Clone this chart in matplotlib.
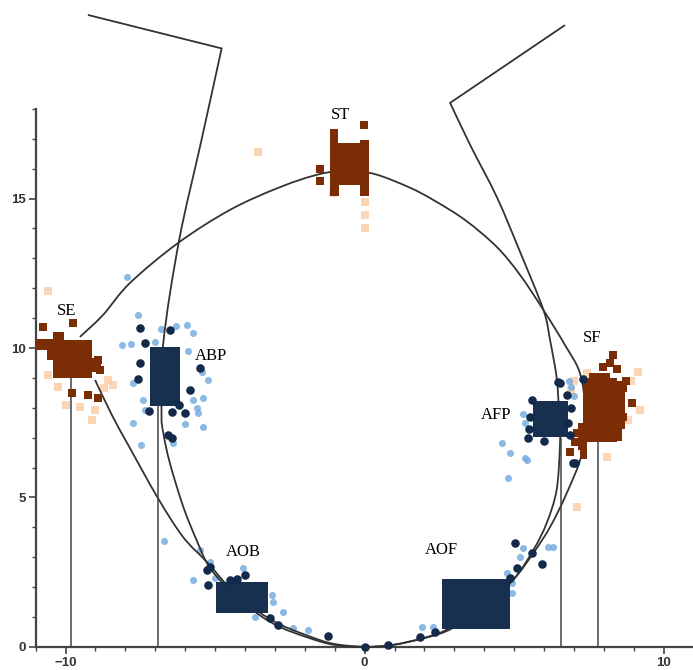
import numpy as np
import matplotlib
matplotlib.use("Agg")
import matplotlib.pyplot as plt
from matplotlib.path import Path
from matplotlib.patches import PathPatch

# ---- data ----
# inner curve (with the two upper arms)
inner_x = [-9.25, -4.78, -5.47, -6.20, -6.73, -6.79, -6.73, -6.51, -6.06, -5.62, -5.23, -4.67,
           -3.61, -2.83, -1.94, -1.06, 0.00, 0.95, 2.08, 2.86, 3.93, 4.96, 5.64, 6.09, 6.42,
           6.53, 6.53, 6.48, 6.42, 6.20, 5.98, 5.20, 4.42, 3.53, 2.86, 6.70]
inner_y = [21.14, 20.02, 16.88, 13.61, 10.17, 7.83, 7.16, 6.15, 4.68, 3.58, 2.74, 2.07,
           1.14, 0.67, 0.33, 0.08, 0.00, 0.07, 0.33, 0.64, 1.37, 2.24, 3.24, 4.15, 5.25,
           6.69, 7.59, 8.26, 9.03, 10.27, 11.27, 13.21, 15.05, 16.79, 18.20, 20.80]
inner_corners = [1, 34]   # sharp vertices of the arms

# outer closed curve SE -> ST -> SF -> bottom -> SE
outer_x = [-9.52, -8.75, -7.85, -6.24, -4.50, -2.83, -1.49, -0.50, 0.40, 1.52, 2.30, 3.36,
           4.42, 5.20, 5.98, 6.70, 7.20, 7.37, 7.27, 6.76, 6.20, 5.64, 4.96, 3.96, 2.92,
           2.09, 0.95, 0.00, -1.06, -1.96, -2.86, -3.63, -4.50, -5.27, -6.07, -6.91, -7.85,
           -8.45, -9.01]
outer_y = [10.37, 11.10, 12.17, 13.51, 14.62, 15.38, 15.82, 15.93, 15.80, 15.36, 14.95, 14.28,
           13.38, 12.44, 11.27, 10.10, 9.16, 7.93, 6.49, 5.15, 4.01, 3.14, 2.24, 1.34, 0.62,
           0.32, 0.07, 0.01, 0.11, 0.40, 0.77, 1.24, 1.97, 2.84, 3.68, 4.98, 6.66,
           7.76, 8.93]

# drop lines
drop_x = [-9.83, -6.90, 6.55, 7.79]
drop_top = [9.0, 8.1, 7.0, 6.9]

# cluster boxes: x0, x1, y0, y1
brown_boxes = [
    (-10.41, -9.13, 8.99, 10.27), (-11.0, -10.41, 9.95, 10.30), (-10.62, -10.41, 9.60, 9.95),
    (-10.41, -10.05, 10.27, 10.55), (-9.13, -8.80, 9.20, 9.65),
    (-1.15, -0.06, 15.45, 16.85), (-1.15, -0.85, 15.10, 15.45), (-0.15, 0.15, 15.10, 16.95),
    (7.31, 8.43, 6.87, 9.00), (7.50, 8.20, 9.00, 9.15), (8.43, 8.70, 7.30, 8.90),
    (7.12, 7.31, 6.60, 7.50), (7.20, 7.45, 6.30, 6.87), (8.43, 8.60, 6.90, 7.30),
]
navy_boxes = [
    (-7.18, -6.17, 8.06, 10.04),   # ABP
    (-4.97, -3.22, 1.13, 2.18),    # AOB
    (2.58, 4.86, 0.59, 2.26),      # AOF
    (5.64, 6.81, 7.01, 8.24),      # AFP
]

# scattered squares
brown_dark_x = [-9.75, -10.75, -8.92, -8.85, -9.79, -9.25, -8.92,
                -1.01, -0.02, -1.50, -1.50, -1.01,
                8.30, 8.20, 7.97, 8.64, 8.94, 8.64, 7.10, 6.87, 7.05, 8.45, 8.75]
brown_dark_y = [10.84, 10.70, 9.60, 9.26, 8.49, 8.43, 8.33,
                17.20, 17.47, 16.00, 15.58, 17.00,
                9.75, 9.50, 9.36, 8.66, 8.16, 7.70, 7.16, 6.53, 6.85, 9.30, 8.90]
brown_light_x = [-10.60, -10.25, -9.50, -8.58, -8.70, -9.00, -9.10, -10.00, -8.40, -10.60,
                 0.00, 0.00, 0.00, -1.06, -3.56,
                 9.14, 9.21, 8.10, 7.43, 7.09, 7.00, 6.90, 8.90, 8.80]
brown_light_y = [11.90, 8.70, 8.03, 8.93, 8.66, 7.93, 7.60, 8.10, 8.75, 9.10,
                 14.90, 14.45, 14.00, 15.20, 16.55,
                 9.20, 7.93, 6.36, 9.16, 4.69, 8.90, 8.60, 8.90, 7.60]

# scattered circles
navy_dark_x = [-7.34, -7.57, -7.51, -7.51, -6.51, -5.50, -5.84, -6.45, -6.00, -6.56, -6.45, -7.20, -6.20,
               -5.28, -5.17, -5.23, -4.50, -4.28, -4.00, -3.16, -2.89, -1.21,
               1.85, 2.35, 0.79, 0.01, 5.03, 5.92, 5.09, 5.59, 4.85,
               6.48, 7.31, 6.76, 5.53, 5.47, 6.87, 7.04, 6.53, 6.98, 5.50, 5.60, 6.90, 6.00, 6.80]
navy_dark_y = [10.16, 8.95, 9.49, 10.66, 10.60, 9.32, 8.60, 7.87, 7.81, 7.09, 6.98, 7.90, 8.10,
               2.58, 2.69, 2.07, 2.24, 2.26, 2.41, 0.96, 0.74, 0.37,
               0.34, 0.51, 0.07, 0.01, 3.49, 2.78, 2.63, 3.14, 2.30,
               8.87, 8.95, 8.43, 7.70, 6.99, 7.09, 6.15, 8.83, 6.14, 7.30, 8.25, 8.00, 6.90, 7.50]
blue_light_x = [-7.57, -8.12, -7.80, -5.73, -5.95, -5.45, -5.23, -5.73, -7.74, -7.40, -7.96, -7.34,
                -5.39, -5.56, -5.39, -7.46, -6.40, -6.80, -6.30, -7.00, -5.90, -5.60, -7.75, -6.00,
                -6.70, -5.73, -5.50, -5.17, -4.06, -3.05, -2.72, -2.38, -1.88, -3.67, -5.00, -3.35, -3.10,
                1.91, 2.29, 4.92, 4.92, 5.20, 4.75, 6.14, 6.30, 5.30,
                4.59, 4.86, 4.80, 5.36, 5.42, 5.30, 5.35, 6.90, 7.00, 5.50, 6.85]
blue_light_y = [11.10, 10.10, 10.15, 10.49, 10.77, 9.21, 8.93, 8.26, 8.82, 8.26, 12.38, 7.93,
                8.32, 7.81, 7.37, 6.76, 6.81, 10.65, 10.75, 10.20, 9.90, 8.00, 7.50, 7.45,
                3.55, 2.24, 3.24, 2.85, 2.63, 1.52, 1.18, 0.63, 0.57, 1.01, 2.30, 1.30, 1.75,
                0.68, 0.68, 2.13, 1.80, 3.02, 2.46, 3.35, 3.35, 3.30,
                6.81, 6.49, 5.65, 6.32, 6.25, 7.80, 7.50, 8.70, 8.40, 7.00, 8.90]

labels = ["SE", "ST", "ABP", "SF", "AFP", "AOB", "AOF"]
label_x = [-9.95, -0.82, -5.13, 7.61, 4.40, -4.06, 2.56]
label_y = [11.24, 17.79, 9.73, 10.33, 7.76, 3.18, 3.24]

BROWN = "#7b2e06"
PEACH = "#fcc89c"
NAVY = "#17304f"
NAVY_DOT = "#132a4a"
LBLUE = "#78aee0"


def smooth_path(xs, ys, corners=()):
    # cubic bezier path through the points (catmull-rom tangents)
    pts = np.column_stack([xs, ys])
    n = len(pts)
    verts = [pts[0]]
    codes = [Path.MOVETO]
    for i in range(n - 1):
        p0 = pts[i - 1] if i > 0 and i not in corners else pts[i]
        p3 = pts[i + 2] if i + 2 < n and (i + 1) not in corners else pts[i + 1]
        p1, p2 = pts[i], pts[i + 1]
        c1 = p1 + (p2 - p0) / 6.0
        c2 = p2 - (p3 - p1) / 6.0
        verts += [c1, c2, p2]
        codes += [Path.CURVE4] * 3
    return Path(verts, codes)


fig = plt.figure(figsize=(6.93, 6.70), dpi=100)
ax = fig.add_axes([0, 0, 1, 1])
ax.set_xlim(-12.19, 10.98)
ax.set_ylim(-0.77, 21.64)

# light points first
ax.scatter(brown_light_x, brown_light_y, marker="s", s=30, color=PEACH, alpha=0.75,
           linewidths=0, zorder=2)
ax.scatter(blue_light_x, blue_light_y, marker="o", s=26, color=LBLUE, alpha=0.85,
           linewidths=0, zorder=2)

# curves and drop lines
ax.add_patch(PathPatch(smooth_path(inner_x, inner_y, inner_corners), fill=False,
                       edgecolor="#333333", lw=1.3, zorder=3, clip_on=False))
ax.add_patch(PathPatch(smooth_path(outer_x, outer_y), fill=False,
                       edgecolor="#333333", lw=1.3, zorder=3, clip_on=False))
ax.vlines(drop_x, 0, drop_top, color="#444444", lw=1.1, zorder=3)

# boxes
for x0, x1, y0, y1 in brown_boxes:
    ax.bar((x0 + x1) / 2, y1 - y0, width=x1 - x0, bottom=y0, color=BROWN, zorder=4)
for x0, x1, y0, y1 in navy_boxes:
    ax.bar((x0 + x1) / 2, y1 - y0, width=x1 - x0, bottom=y0, color=NAVY, zorder=4)

ax.scatter(brown_dark_x, brown_dark_y, marker="s", s=34, color=BROWN, linewidths=0, zorder=5)
ax.scatter(navy_dark_x, navy_dark_y, marker="o", s=38, color=NAVY_DOT, linewidths=0, zorder=5)

for t, x, y in zip(labels, label_x, label_y):
    ax.text(x, y, t, ha="center", va="center", fontsize=12,
            family="Liberation Serif", color="black", zorder=6)

# axes
for side in ["top", "right"]:
    ax.spines[side].set_visible(False)
ax.spines["left"].set_position(("data", -11))
ax.spines["bottom"].set_position(("data", 0))
ax.spines["left"].set_bounds(0, 18)
ax.spines["bottom"].set_bounds(-11, 11)
for side in ["left", "bottom"]:
    ax.spines[side].set_color("#444444")
    ax.spines[side].set_linewidth(1.6)

ax.set_xticks([-10, 0, 10])
ax.set_yticks([0, 5, 10, 15])
ax.set_xticks(np.arange(-11, 11), minor=True)
ax.set_yticks(np.arange(0, 19), minor=True)
ax.tick_params(which="major", length=5, width=1.2, color="#444444", labelsize=9.5, pad=2)
ax.tick_params(which="minor", length=3, width=1.0, color="#444444")
for lab in ax.get_xticklabels() + ax.get_yticklabels():
    lab.set_fontweight("bold")
    lab.set_color("#333333")
    lab.set_family("Liberation Sans")

fig.savefig("out.png", dpi=100)
